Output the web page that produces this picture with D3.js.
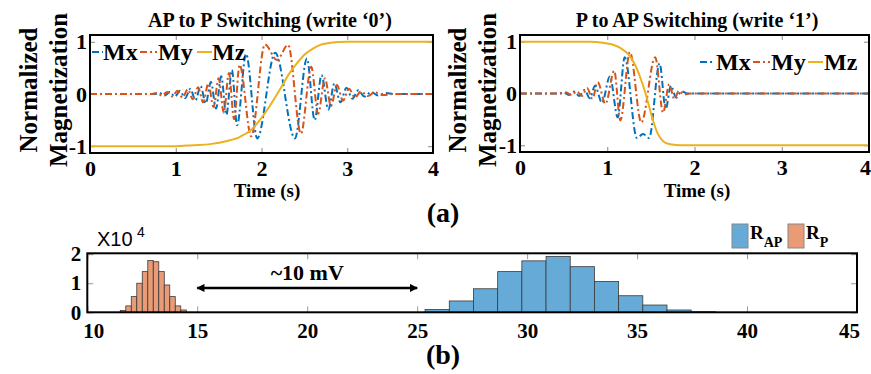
<!DOCTYPE html>
<html>
<head>
<meta charset="utf-8">
<script src="https://cdn.jsdelivr.net/npm/d3@7"></script>
<style>
  body { margin: 0; background: #fff; }
  svg { display: block; }
  text { font-family: "Liberation Serif", "Times New Roman", serif; font-weight: bold; fill: #000; }
</style>
</head>
<body>
<div id="chart"></div>
<script>
// ---- data ----
// AP -> P switching, [time (s), normalized magnetization]
const apMx = [[0,0],[0.75,0],[0.81,0.02],[0.87,-0.03],[0.93,0.04],[0.99,-0.05],[1.05,0.06],[1.11,-0.08],[1.17,0.1],
  [1.23,-0.12],[1.29,0.15],[1.35,-0.18],[1.41,0.23],[1.47,-0.28],[1.53,0.34],[1.59,-0.4],[1.655,0.46],[1.715,-0.6],
  [1.82,0.77],[1.95,-0.85],[2.16,0.79],[2.39,-0.85],[2.53,0.68],[2.62,-0.5],[2.70,0.36],[2.78,-0.3],[2.85,0.2],
  [2.92,-0.16],[2.99,0.12],[3.06,-0.09],[3.13,0.07],[3.2,-0.05],[3.28,0.04],[3.36,-0.03],[3.45,0.02],[3.55,0],[4,0]];
const apMy = [[0,0],[0.72,0],[0.78,0.02],[0.84,-0.03],[0.90,0.04],[0.96,-0.05],[1.02,0.06],[1.08,-0.07],[1.14,0.09],
  [1.20,-0.1],[1.26,0.13],[1.32,-0.16],[1.38,0.2],[1.44,-0.25],[1.50,0.3],[1.56,-0.36],[1.62,0.4],[1.68,-0.48],
  [1.745,0.56],[1.88,-0.81],[2.04,0.95],[2.18,0.65],[2.31,0.94],[2.46,-0.76],[2.58,0.52],[2.66,-0.38],[2.74,0.3],
  [2.81,-0.23],[2.88,0.17],[2.95,-0.13],[3.02,0.1],[3.09,-0.07],[3.16,0.05],[3.24,-0.04],[3.32,0.03],[3.42,-0.02],[3.55,0],[4,0]];
const apMz = [[0,-1],[1.0,-1],[1.2,-0.98],[1.4,-0.96],[1.6,-0.9],[1.75,-0.82],[1.87,-0.7],[1.98,-0.5],[2.1,-0.22],
  [2.22,0.1],[2.32,0.38],[2.41,0.58],[2.5,0.75],[2.6,0.87],[2.7,0.95],[2.8,0.98],[3.0,1],[4,1]];

// P -> AP switching
const pMx = [[0,0],[0.45,0],[0.50,0.02],[0.56,-0.03],[0.62,0.04],[0.68,-0.05],[0.74,0.07],[0.80,-0.09],[0.86,0.15],
  [0.94,-0.18],[1.03,0.33],[1.12,-0.46],[1.20,0.70],[1.34,-0.86],[1.41,-0.78],[1.48,-0.86],[1.60,0.58],[1.67,-0.3],
  [1.73,0.15],[1.79,-0.08],[1.85,0.04],[1.92,0],[4,0]];
const pMy = [[0,0],[0.45,0],[0.53,0.02],[0.59,-0.03],[0.65,0.04],[0.71,-0.05],[0.77,0.1],[0.83,-0.1],[0.89,0.22],
  [0.98,-0.2],[1.08,0.44],[1.15,-0.52],[1.26,0.80],[1.39,-0.56],[1.55,0.70],[1.64,-0.37],[1.71,0.18],[1.77,-0.11],
  [1.82,0.05],[1.88,-0.02],[1.95,0],[4,0]];
const pMz = [[0,1],[0.8,1],[0.95,0.98],[1.05,0.95],[1.15,0.88],[1.24,0.76],[1.32,0.55],[1.38,0.3],[1.43,0.05],
  [1.48,-0.25],[1.53,-0.55],[1.58,-0.78],[1.64,-0.92],[1.72,-0.98],[1.85,-1],[4,-1]];

const seriesNames = ["Mx", "My", "Mz"];
const seriesColors = ["#0072BD", "#D95319", "#EDB120"];
const timeTicks = [0, 1, 2, 3, 4];
const magTicks = [-1, 0, 1];

// histogram (counts in units of 1e4), left bin edges in mV
const rpBins   = [11.5, 11.75, 12, 12.25, 12.5, 12.75, 13, 13.25, 13.5, 13.75, 14, 14.25];
const rpCounts = [0.06, 0.22, 0.54, 1.0, 1.4, 1.78, 1.74, 1.4, 0.94, 0.54, 0.22, 0.08];
const rpBinWidth = 0.25;
const rapBins   = [25.36, 26.46, 27.56, 28.66, 29.76, 30.86, 31.96, 33.06, 34.16, 35.26, 36.36, 37.46];
const rapCounts = [0.10, 0.39, 0.81, 1.40, 1.77, 1.92, 1.57, 1.06, 0.57, 0.25, 0.08, 0.02];
const rapBinWidth = 1.1;
const histXTicks = [10, 15, 20, 25, 30, 35, 40, 45];
const histYTicks = [0, 1, 2];

// ---- drawing ----
const W = 871, H = 374;
const svg = d3.select("#chart").append("svg").attr("width", W).attr("height", H);

const panels = [
  { title: "AP to P Switching (write \u20180\u2019)", series: [apMx, apMy, apMz],
    left: 90, right: 433, top: 35, bottom: 153, titleX: 270, xlabX: 267,
    ylabX: [28, 58], legend: [[92, 103, 103], [140, 157, 158], [197, 212, 212]], legendY: 52 },
  { title: "P to AP Switching (write \u20181\u2019)", series: [pMx, pMy, pMz],
    left: 520, right: 869, top: 35, bottom: 152, titleX: 697, xlabX: 697,
    ylabX: [457, 487], legend: [[700, 713, 716], [753, 770, 771], [808, 823, 824]], legendY: 62 }
];

panels.forEach(p => {
  const x = d3.scaleLinear().domain([0, 4]).range([p.left, p.right]);
  const y = d3.scaleLinear().domain([-1.13, 1.13]).range([p.bottom, p.top]);
  const g = svg.append("g");

  // axes: inward ticks on all four sides
  const bx = g.append("g").attr("transform", `translate(0,${p.bottom})`)
    .call(d3.axisBottom(x).tickValues(timeTicks).tickSize(-5).tickPadding(7).tickFormat(d => String(d)));
  const tx = g.append("g").attr("transform", `translate(0,${p.top})`)
    .call(d3.axisTop(x).tickValues(timeTicks).tickSize(-5).tickFormat(""));
  const ly = g.append("g").attr("transform", `translate(${p.left},0)`)
    .call(d3.axisLeft(y).tickValues(magTicks).tickSize(-5).tickPadding(3).tickFormat(d => String(d)));
  const ry = g.append("g").attr("transform", `translate(${p.right},0)`)
    .call(d3.axisRight(y).tickValues(magTicks).tickSize(-5).tickFormat(""));
  [bx, tx, ly, ry].forEach(a => {
    a.select(".domain").remove();
    a.selectAll(".tick line").attr("stroke", "#888");
    a.selectAll("text").attr("font-size", 22).attr("fill", "#000");
  });
  // keep the last time label inside the page
  bx.selectAll(".tick text").filter(d => d === 4).attr("dx", p.right > 800 ? -4 : 0);

  // curves
  const line = d3.line().x(d => x(d[0])).y(d => y(d[1])).curve(d3.curveMonotoneX);
  p.series.forEach((s, i) => {
    g.append("path").datum(s)
      .attr("d", line)
      .attr("fill", "none")
      .attr("stroke", seriesColors[i])
      .attr("stroke-width", 2)
      .attr("stroke-dasharray", i < 2 ? "7,3,2,3" : null);
  });

  // frame
  g.append("rect").attr("x", p.left).attr("y", p.top)
    .attr("width", p.right - p.left).attr("height", p.bottom - p.top)
    .attr("fill", "none").attr("stroke", "#000").attr("stroke-width", 2);

  // legend
  p.legend.forEach((l, i) => {
    g.append("line").attr("x1", l[0]).attr("x2", l[1]).attr("y1", p.legendY).attr("y2", p.legendY)
      .attr("stroke", seriesColors[i]).attr("stroke-width", 2)
      .attr("stroke-dasharray", i < 2 ? "7,3,2,3" : null);
    g.append("text").attr("x", l[2]).attr("y", p.legendY + 8)
      .attr("font-size", 24).text(seriesNames[i]);
  });

  // titles and labels
  g.append("text").attr("x", p.titleX).attr("y", 27).attr("text-anchor", "middle")
    .attr("font-size", 20).text(p.title);
  g.append("text").attr("x", p.xlabX).attr("y", 197).attr("text-anchor", "middle")
    .attr("font-size", 19).text("Time (s)");
  ["Normalized", "Magnetization"].forEach((t, i) => {
    g.append("text").attr("transform", `translate(${p.ylabX[i]},90) rotate(-90)`)
      .attr("text-anchor", "middle").attr("dominant-baseline", "central")
      .attr("font-size", 25).text(t);
  });
});

svg.append("text").attr("x", 443).attr("y", 222).attr("text-anchor", "middle")
  .attr("font-size", 28).text("(a)");

// ---- histogram ----
const hx = d3.scaleLinear().domain([10, 45]).range([87.3, 857]);
const hy = d3.scaleLinear().domain([0, 2.03]).range([312.3, 253.3]);
const hg = svg.append("g");

const hb = hg.append("g").attr("transform", `translate(0,${hy(0)})`)
  .call(d3.axisBottom(hx).tickValues(histXTicks).tickSize(-6).tickPadding(11).tickFormat(d => String(d)));
const ht = hg.append("g").attr("transform", `translate(0,${hy.range()[1]})`)
  .call(d3.axisTop(hx).tickValues(histXTicks).tickSize(-6).tickFormat(""));
const hl = hg.append("g").attr("transform", `translate(${hx(10)},0)`)
  .call(d3.axisLeft(hy).tickValues(histYTicks).tickSize(-6).tickPadding(6).tickFormat(d => String(d)));
const hr = hg.append("g").attr("transform", `translate(${hx(45)},0)`)
  .call(d3.axisRight(hy).tickValues(histYTicks).tickSize(-6).tickFormat(""));
[hb, ht, hl, hr].forEach(a => {
  a.select(".domain").remove();
  a.selectAll(".tick line").attr("stroke", "#999");
  a.selectAll("text").attr("font-size", 21).attr("fill", "#000");
});
hb.selectAll(".tick text").attr("dx", d => d === 10 ? 6 : d === 45 ? -8 : 0);

const bars = [
  { bins: rapBins, counts: rapCounts, w: rapBinWidth, fill: "#66aad7" },
  { bins: rpBins, counts: rpCounts, w: rpBinWidth, fill: "#e89b75" }
];
bars.forEach(b => {
  hg.selectAll(null).data(b.bins.map((e, i) => ({ x0: e, x1: e + b.w, v: b.counts[i] })))
    .join("rect")
    .attr("x", d => hx(d.x0))
    .attr("width", d => hx(d.x1) - hx(d.x0))
    .attr("y", d => hy(d.v))
    .attr("height", d => hy(0) - hy(d.v))
    .attr("fill", b.fill)
    .attr("stroke", "#3a3a3a")
    .attr("stroke-width", 0.8);
});

hg.append("rect").attr("x", hx(10)).attr("y", hy.range()[1])
  .attr("width", hx(45) - hx(10)).attr("height", hy(0) - hy.range()[1])
  .attr("fill", "none").attr("stroke", "#000").attr("stroke-width", 2);

// double arrow annotation
const defs = svg.append("defs");
["arrEnd", "arrStart"].forEach((id, i) => {
  defs.append("marker").attr("id", id).attr("viewBox", "0 0 10 10")
    .attr("refX", i === 0 ? 9 : 1).attr("refY", 5)
    .attr("markerWidth", 4).attr("markerHeight", 3.2).attr("orient", "auto")
    .append("path").attr("d", i === 0 ? "M0,0 L10,5 L0,10 z" : "M10,0 L0,5 L10,10 z").attr("fill", "#000");
});
hg.append("line").attr("x1", hx(15)).attr("x2", hx(25)).attr("y1", hy(0.84)).attr("y2", hy(0.84))
  .attr("stroke", "#000").attr("stroke-width", 2.5)
  .attr("marker-start", "url(#arrStart)").attr("marker-end", "url(#arrEnd)");
hg.append("text").attr("x", hx(20)).attr("y", 280).attr("text-anchor", "middle")
  .attr("font-size", 22).text("~10 mV");

// exponent
hg.append("text").attr("x", 97).attr("y", 246).style("font-family", "'Liberation Sans', Arial, sans-serif")
  .style("font-weight", "normal").attr("font-size", 20).text("X10");
hg.append("text").attr("x", 137).attr("y", 237).style("font-family", "'Liberation Sans', Arial, sans-serif")
  .style("font-weight", "normal").attr("font-size", 14).text("4");

// legend
const hLegend = [{ x: 732, fill: "#66aad7", sub: "AP" }, { x: 788, fill: "#e89b75", sub: "P" }];
hLegend.forEach(l => {
  hg.append("rect").attr("x", l.x).attr("y", 224).attr("width", 16).attr("height", 24)
    .attr("fill", l.fill).attr("stroke", "#888").attr("stroke-width", 1);
  const t = hg.append("text").attr("x", l.x + 18).attr("y", 239).attr("font-size", 19).text("R");
  t.append("tspan").attr("dy", 8).attr("font-size", 14).text(l.sub);
});

svg.append("text").attr("x", 443).attr("y", 364).attr("text-anchor", "middle")
  .attr("font-size", 28).text("(b)");
</script>
</body>
</html>
